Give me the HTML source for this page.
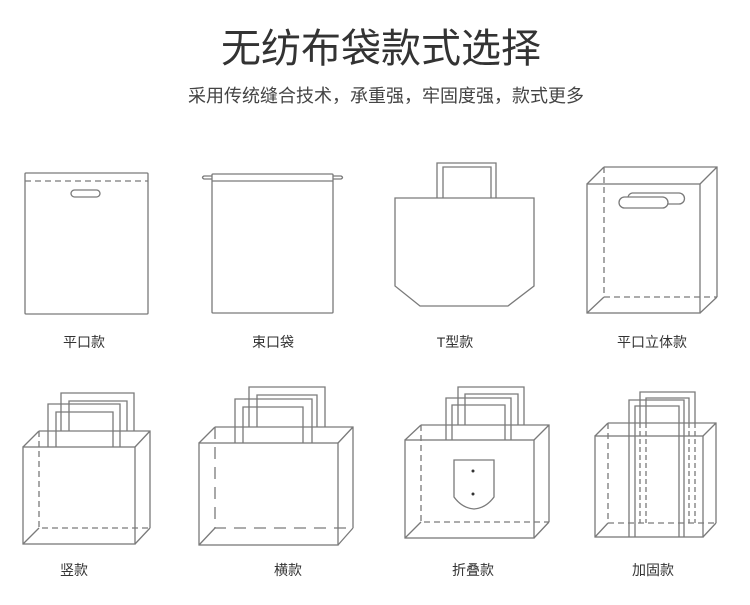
<!DOCTYPE html>
<html><head><meta charset="utf-8"><style>
body{margin:0;width:750px;height:605px;background:#fff;overflow:hidden;font-family:"Liberation Sans","Noto Sans CJK SC",sans-serif;}
svg{position:absolute;left:0;top:0}
</style></head><body>
<svg width="750" height="605" viewBox="0 0 750 605" xmlns="http://www.w3.org/2000/svg" fill="none" stroke="#7a7a7a" stroke-width="1.3">
<g font-family="Liberation Sans, Noto Sans CJK SC, sans-serif" fill="#333" stroke="none" text-anchor="middle">
<text x="381" y="62" font-size="40">无纺布袋款式选择</text>
<text x="386" y="102" font-size="18" fill="#444">采用传统缝合技术，承重强，牢固度强，款式更多</text>
<text x="84" y="347" font-size="14">平口款</text>
<text x="273" y="347" font-size="14">束口袋</text>
<text x="455" y="347" font-size="14">T型款</text>
<text x="652" y="347" font-size="14">平口立体款</text>
<text x="74" y="575" font-size="14">竖款</text>
<text x="288" y="575" font-size="14">横款</text>
<text x="473" y="575" font-size="14">折叠款</text>
<text x="653" y="575" font-size="14">加固款</text>
</g>
<!-- bag1 -->
<rect x="25" y="173" width="123" height="141" rx="1"/>
<line x1="25" y1="181" x2="148" y2="181" stroke-dasharray="6,4"/>
<rect x="71" y="190" width="29" height="7" rx="3.5"/>
<!-- bag2 -->
<rect x="212" y="174" width="121" height="139" rx="1"/>
<line x1="212" y1="181" x2="333" y2="181"/>
<path d="M212 176 L204 176 Q201 177.5 204 179 L212 179 M333 176 L341 176 Q344 177.5 341 179 L333 179"/>
<!-- bag3 -->
<path d="M437 198 V163 H496 V198 M443 198 V167 H491 V198"/>
<path d="M395 198 H534 V286 L508 306 H420 L395 286 Z"/>
<!-- bag4 -->
<rect x="587" y="184" width="113" height="129"/>
<path d="M604 167 H717 V297 M587 184 L604 167 M700 184 L717 167 M700 313 L717 297 M587 313 L604 297"/>
<path d="M604 167 V297 H717" stroke-dasharray="6,4"/>
<rect x="619" y="197" width="49" height="11" rx="5.5"/>
<path d="M632 193 H679 A5.5 5.5 0 0 1 679 204 H668 M632 193 A5.5 5.5 0 0 0 628 197"/>
<!-- bag5 -->
<path d="M61 431 V393 H134 V431 M69 431 V401 H127 V431"/>
<path d="M48 447 V404 H120 V447 M56 447 V412 H113 V447"/>
<rect x="23" y="447" width="112" height="97"/>
<path d="M39 431 H150 V528 M23 447 L39 431 M135 447 L150 431 M135 544 L150 528 M23 544 L39 528"/>
<path d="M39 431 V528 H150" stroke-dasharray="6,4"/>
<!-- bag6 -->
<path d="M249 427 V387 H325 V427 M257 427 V395 H317 V427"/>
<path d="M235 443 V399 H312 V443 M243 443 V407 H303 V443"/>
<rect x="199" y="443" width="139" height="102"/>
<path d="M215 427 H353 V528 M199 443 L215 427 M338 443 L353 427 M338 545 L353 528 M199 545 L215 528"/>
<path d="M215 427 V528 H353" stroke-dasharray="12,8"/>
<!-- bag7 -->
<path d="M458 425 V387 H524 V425 M465 425 V394 H518 V425"/>
<path d="M446 440 V398 H511 V440 M452 440 V405 H505 V440"/>
<rect x="405" y="440" width="129" height="98"/>
<path d="M421 425 H549 V522 M405 440 L421 425 M534 440 L549 425 M534 538 L549 522 M405 538 L421 522"/>
<path d="M421 425 V522 H549" stroke-dasharray="6,4"/>
<path d="M454 460 H494 V497 Q486 508 474 509 Q462 508 454 497 Z"/>
<circle cx="473" cy="471" r="1.5" fill="#333" stroke="none"/>
<circle cx="473" cy="494" r="1.5" fill="#333" stroke="none"/>
<!-- bag8 -->
<path d="M640 423 V392 H695 V423 M646 423 V398 H689 V423"/>
<path d="M640 423 V523 M646 423 V523 M689 423 V523 M695 423 V523" stroke-dasharray="5,3"/>
<path d="M629 537 V400 H684 V537 M635 537 V406 H679 V537"/>
<rect x="595" y="436" width="108" height="101"/>
<path d="M608 423 H716 V523 M595 436 L608 423 M703 436 L716 423 M703 537 L716 523 M595 537 L608 523"/>
<path d="M608 423 V523 H716" stroke-dasharray="6,4"/>
</svg>
</body></html>
